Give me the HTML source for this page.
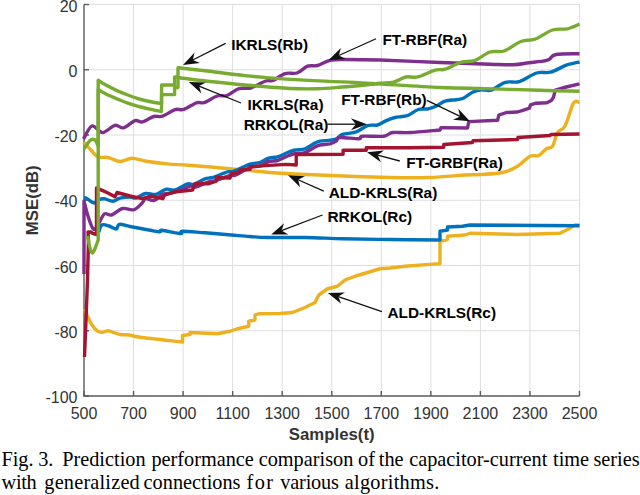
<!DOCTYPE html>
<html><head><meta charset="utf-8"><style>
html,body{margin:0;padding:0;background:#fff;width:640px;height:495px;overflow:hidden}
svg{position:absolute;left:0;top:0}
.g{stroke:#dedede;stroke-width:1}
.ax{stroke:#5a5a5a;stroke-width:1.4;fill:none}
.tl{font-family:"Liberation Sans",sans-serif;font-size:16px;fill:#333}
.lb{font-family:"Liberation Sans",sans-serif;font-size:16.8px;font-weight:bold;fill:#333}
.c{fill:none;stroke-width:3.4;stroke-linejoin:round;stroke-linecap:butt}
.ann{font-family:"Liberation Sans",sans-serif;font-size:15.4px;font-weight:bold;fill:#000}
.ar{stroke:#111;stroke-width:1.3}
.ah{fill:#111}
.cap{font-family:"Liberation Serif",serif;font-size:20.3px;fill:#000}
</style></head><body>
<svg width="640" height="495" viewBox="0 0 640 495">
<line x1="133.55" y1="4.5" x2="133.55" y2="396.0" class="g"/>
<line x1="183.10" y1="4.5" x2="183.10" y2="396.0" class="g"/>
<line x1="232.65" y1="4.5" x2="232.65" y2="396.0" class="g"/>
<line x1="282.20" y1="4.5" x2="282.20" y2="396.0" class="g"/>
<line x1="331.75" y1="4.5" x2="331.75" y2="396.0" class="g"/>
<line x1="381.30" y1="4.5" x2="381.30" y2="396.0" class="g"/>
<line x1="430.85" y1="4.5" x2="430.85" y2="396.0" class="g"/>
<line x1="480.40" y1="4.5" x2="480.40" y2="396.0" class="g"/>
<line x1="529.95" y1="4.5" x2="529.95" y2="396.0" class="g"/>
<line x1="579.50" y1="4.5" x2="579.50" y2="396.0" class="g"/>
<line x1="84.0" y1="330.75" x2="579.5" y2="330.75" class="g"/>
<line x1="84.0" y1="265.50" x2="579.5" y2="265.50" class="g"/>
<line x1="84.0" y1="200.25" x2="579.5" y2="200.25" class="g"/>
<line x1="84.0" y1="135.00" x2="579.5" y2="135.00" class="g"/>
<line x1="84.0" y1="69.75" x2="579.5" y2="69.75" class="g"/>
<line x1="84.0" y1="4.50" x2="579.5" y2="4.50" class="g"/>
<path d="M84.0 4.5 V396.0 H579.5" class="ax"/>
<line x1="84.00" y1="396.0" x2="84.00" y2="391.0" class="ax"/>
<line x1="133.55" y1="396.0" x2="133.55" y2="391.0" class="ax"/>
<line x1="183.10" y1="396.0" x2="183.10" y2="391.0" class="ax"/>
<line x1="232.65" y1="396.0" x2="232.65" y2="391.0" class="ax"/>
<line x1="282.20" y1="396.0" x2="282.20" y2="391.0" class="ax"/>
<line x1="331.75" y1="396.0" x2="331.75" y2="391.0" class="ax"/>
<line x1="381.30" y1="396.0" x2="381.30" y2="391.0" class="ax"/>
<line x1="430.85" y1="396.0" x2="430.85" y2="391.0" class="ax"/>
<line x1="480.40" y1="396.0" x2="480.40" y2="391.0" class="ax"/>
<line x1="529.95" y1="396.0" x2="529.95" y2="391.0" class="ax"/>
<line x1="579.50" y1="396.0" x2="579.50" y2="391.0" class="ax"/>
<line x1="84.0" y1="396.00" x2="89.0" y2="396.00" class="ax"/>
<line x1="84.0" y1="330.75" x2="89.0" y2="330.75" class="ax"/>
<line x1="84.0" y1="265.50" x2="89.0" y2="265.50" class="ax"/>
<line x1="84.0" y1="200.25" x2="89.0" y2="200.25" class="ax"/>
<line x1="84.0" y1="135.00" x2="89.0" y2="135.00" class="ax"/>
<line x1="84.0" y1="69.75" x2="89.0" y2="69.75" class="ax"/>
<line x1="84.0" y1="4.50" x2="89.0" y2="4.50" class="ax"/>
<path class="c" stroke="#EDB120" d="M84.5,309 C85.0,310.2 86.3,313.7 87.6,316.4 C88.8,319.1 90.3,322.5 92.0,325.0 C93.7,327.5 95.9,330.0 97.6,331.2 C99.3,332.4 100.5,332.4 102.2,332.3 C104.0,332.2 106.3,330.7 108.1,330.7 C109.9,330.7 111.0,331.7 113.1,332.3 C115.1,332.9 117.7,334.1 120.4,334.5 C123.1,334.9 126.2,334.5 129.5,335.0 C132.8,335.5 131.2,336.1 140.0,337.3 C148.8,338.5 175.4,341.2 182.5,342.0 L182.5,335.5 L190,334.5 L190,332.5 L217.5,333.75 L230,331.25 L237.5,328.75 L248.75,326.25 L248.75,321.25 L255,320 L255,315 L258.75,313.75 L280,313.5 L292.5,312.5 L305,307.5 L315,302.5 L318.75,295 L327.5,288.75 L337.5,286.25 L345,280 L355,276.25 L367.5,272.5 L380,268.75 L390,268 L405,266.25 L440,263.6 L440,241.25 L447.5,239.5 L447.5,236.25 L465,235 L470,233.25 L517.5,234.5 L560,233.25 L567.5,229.5 L575,225 L579.5,225"/>
<path class="c" stroke="#0072BD" d="M98.8,232 C99.3,230.8 100.1,226.0 101.8,225.0 C103.5,224.0 106.6,225.3 109.0,226.0 C111.4,226.7 114.7,229.3 116.4,229.0 C118.1,228.7 117.1,224.7 119.4,224.3 C121.7,223.9 125.1,225.6 130.0,226.5 C134.9,227.4 143.8,229.1 148.8,230.0 C153.8,230.9 157.8,231.9 160.0,231.9 C162.2,231.9 158.5,229.9 161.9,230.2 C165.3,230.5 177.2,233.4 180.6,233.6 C184.0,233.8 178.4,231.3 182.5,231.2 C186.6,231.1 196.9,232.2 205.0,232.8 C213.1,233.4 223.8,234.4 231.3,235.0 C238.8,235.6 244.0,236.1 250.0,236.5 C256.0,236.9 258.3,237.3 267.5,237.5 C276.7,237.7 292.5,237.3 305.0,237.5 C317.5,237.7 328.3,238.4 342.5,238.8 C356.7,239.1 373.8,239.3 390.0,239.5 C406.2,239.7 431.7,239.9 440.0,240.0 L440,231.25 L447.5,230 L447.5,227 L462.5,226.25 L470,225 L540,225.5 L579.5,225.75"/>
<path class="c" stroke="#EDB120" d="M84,142.4 C85.2,143.7 88.7,147.6 91.0,150.0 C93.3,152.4 95.2,155.8 98.0,157.0 C100.8,158.2 104.3,156.8 108.0,157.5 C111.7,158.2 116.3,161.4 120.3,161.5 C124.3,161.6 127.7,158.2 132.0,158.2 C136.3,158.2 140.5,160.4 146.3,161.3 C152.1,162.2 160.1,163.2 167.0,163.9 C173.9,164.6 180.0,164.6 187.8,165.2 C195.6,165.8 205.1,166.6 213.7,167.3 C222.3,168.0 226.9,168.5 239.6,169.6 C252.3,170.7 264.9,172.4 290.0,173.8 C315.1,175.1 366.7,176.9 390.0,177.5 C413.3,178.1 417.5,177.9 430.0,177.5 C442.5,177.1 456.7,175.5 465.0,175.0 C473.3,174.5 473.8,174.9 480.0,174.5 C486.2,174.1 496.2,173.9 502.5,172.5 C508.8,171.1 512.9,169.0 517.5,166.2 C522.1,163.5 526.5,158.0 530.0,156.2 C533.5,154.5 536.0,156.8 538.8,155.5 C541.5,154.2 544.0,150.3 546.2,148.8 C548.5,147.2 550.6,149.0 552.5,146.2 C554.4,143.5 555.4,135.9 557.5,132.5 C559.6,129.1 562.3,130.9 565.0,126.0 C567.7,121.1 571.1,106.9 573.5,103.0 C575.9,99.1 578.5,102.6 579.5,102.5"/>
<path class="c" stroke="#0072BD" d="M84,198.2 C84.3,198.2 84.3,197.2 86.0,198.0 C87.7,198.8 92.0,202.7 94.0,203.0 C96.0,203.3 96.3,200.7 98.0,200.0 C99.7,199.3 101.8,198.6 104.3,198.8 C106.8,199.0 110.2,201.3 112.8,201.2 C115.4,201.1 117.1,198.9 120.0,198.2 C122.9,197.5 127.3,197.0 130.0,197.0 C132.7,197.0 133.4,198.6 136.0,198.0 C138.6,197.4 142.3,194.1 145.6,193.5 C148.9,192.9 152.5,195.1 155.9,194.4 C159.3,193.7 163.0,189.9 166.2,189.2 C169.3,188.5 171.2,190.9 174.8,190.0 C178.4,189.1 184.3,184.7 187.5,183.8 C190.7,182.8 190.8,185.2 193.8,184.4 C196.7,183.6 201.9,179.9 205.0,178.8 C208.1,177.6 208.8,178.6 212.5,177.5 C216.2,176.4 224.0,172.9 227.5,171.9 C231.0,170.9 230.0,172.5 233.8,171.2 C237.5,170.0 245.6,165.7 250.0,164.2 C254.4,162.7 256.9,163.5 260.0,162.5 C263.1,161.5 265.8,159.0 268.8,158.1 C271.7,157.2 274.4,157.8 277.5,156.9 C280.6,156.0 284.6,153.7 287.5,152.5 C290.4,151.3 292.1,150.6 295.0,150.0 C297.9,149.4 301.7,149.9 305.0,148.8 C308.3,147.6 312.5,144.3 315.0,143.1 C317.5,141.8 316.7,141.9 320.0,141.2 C323.3,140.6 331.2,140.5 335.0,139.4 C338.8,138.3 339.0,135.7 342.5,134.4 C346.0,133.2 352.1,133.4 356.2,131.9 C360.4,130.4 364.0,126.8 367.5,125.6 C371.0,124.4 374.4,125.8 377.5,125.0 C380.6,124.2 383.3,121.8 386.2,120.6 C389.2,119.3 392.4,118.2 395.0,117.5 C397.6,116.8 399.8,116.9 402.0,116.5 C404.2,116.1 405.7,116.4 408.4,115.2 C411.1,114.0 415.0,110.6 418.3,109.5 C421.6,108.4 425.1,109.4 428.1,108.8 C431.2,108.2 433.8,107.3 436.6,106.0 C439.4,104.7 441.7,102.1 445.0,101.1 C448.3,100.0 453.2,100.2 456.3,99.7 C459.4,99.2 460.5,99.6 463.3,98.3 C466.1,97.0 470.1,93.4 473.1,92.0 C476.2,90.6 478.6,90.1 481.6,89.8 C484.6,89.5 487.3,91.5 491.2,90.2 C495.2,89.0 500.6,83.7 505.3,82.3 C510.0,80.9 514.2,83.1 519.4,81.6 C524.6,80.0 531.4,74.6 536.6,73.0 C541.8,71.4 545.7,73.5 550.6,72.2 C555.5,70.9 561.4,66.9 566.2,65.2 C571.1,63.5 577.3,62.5 579.5,62.0"/>
<path class="c" stroke="#7E2F8E" d="M84,274 L84,201 C84.7,203.5 86.5,211.3 88.0,216.0 C89.5,220.7 91.6,227.5 93.3,229.0 C95.0,230.5 96.2,227.5 98.0,225.0 C99.8,222.5 102.0,215.7 104.3,214.0 C106.5,212.3 108.5,215.9 111.5,215.0 C114.5,214.1 118.8,209.4 122.5,208.5 C126.2,207.6 130.3,210.7 133.6,209.8 C136.9,208.9 140.2,204.9 142.2,203.0 C144.2,201.1 143.6,198.9 145.6,198.5 C147.6,198.1 151.3,201.1 154.2,200.4 C157.1,199.7 159.7,195.7 162.8,194.4 C166.0,193.1 169.9,193.3 173.1,192.6 C176.2,191.9 178.9,191.1 181.7,190.0 C184.5,188.9 187.6,186.8 190.0,186.2 C192.4,185.7 193.2,187.6 196.2,186.9 C199.2,186.2 204.9,183.0 208.0,182.0 C211.1,181.0 211.3,182.1 215.0,181.0 C218.7,179.9 226.5,176.5 230.0,175.5 C233.5,174.5 232.7,176.3 236.0,175.0 C239.3,173.7 246.0,169.0 250.0,167.5 C254.0,166.0 256.9,167.0 260.0,166.0 C263.1,165.0 265.8,162.4 268.8,161.5 C271.7,160.6 274.4,161.4 277.5,160.5 C280.6,159.6 284.6,157.2 287.5,156.0 C290.4,154.8 292.1,154.1 295.0,153.5 C297.9,152.9 301.7,153.6 305.0,152.5 C308.3,151.4 312.5,148.2 315.0,147.0 C317.5,145.8 317.5,145.5 320.0,145.0 C322.5,144.5 327.3,144.4 330.0,143.8 C332.7,143.1 334.6,142.3 336.2,141.2 C337.9,140.2 336.2,137.9 340.0,137.5 C343.8,137.1 355.0,139.0 358.8,138.8 C362.5,138.5 358.3,136.7 362.5,136.2 C366.7,135.8 378.8,136.9 383.8,136.2 C388.8,135.6 388.1,133.1 392.5,132.5 C396.9,131.9 402.1,132.9 410.0,132.5 C417.9,132.1 435.0,130.4 440.0,130.0 L441,127.6 L467.5,128 L468.8,121.6 L497.7,120.2 L498.8,115.2 L506.4,112.5 L517.4,112 L522.8,110.3 L529.4,108.1 L530.5,104.8 L536,103.2 L546.9,102.7 L551.3,100.5 L553.5,97.2 L555.3,90.2 L566.25,87 L579.5,83.9"/>
<path class="c" stroke="#A2142F" d="M84.5,357 L86,320 L87.5,280 L88.5,240 L88,232 L91,232 L92.7,233.4 L96.5,234.6 L96.5,188 C98.4,188.8 104.9,191.5 108.0,193.0 C111.1,194.5 113.8,196.2 115.0,196.8 L117,192.5 L130,196 L142.2,198.7 L150.8,196 L162.8,198.7 L164.5,195.2 L174.8,191.8 L183.4,191 L192.5,190 L195,183.75 L208.75,183.75 L216.25,181.25 L216.25,177.5 L230,178 L231.25,173.75 L238.75,172.5 L240,170 L250,169.4 L250,166.9 L265,165.6 L286.25,164.4 L296.25,165 L296.25,154.5 L343.1,154.3 L343.1,150.3 L366.3,150.2 L366.3,147.8 L410,147.8 L443.75,147.3 L443.75,144.5 L472.5,142.5 L473,140.8 L517.5,139.5 L518,137.5 L550,135.5 L551,134.5 L579.5,134"/>
<path class="c" stroke="#7E2F8E" d="M83.5,139 C84.9,136.8 88.8,127.1 92.0,126.0 C95.2,124.9 98.8,132.7 102.6,132.6 C106.4,132.5 111.3,126.2 114.8,125.4 C118.3,124.6 120.3,128.6 123.7,127.8 C127.1,127.0 131.9,121.6 135.0,120.6 C138.1,119.6 139.4,122.6 142.5,121.9 C145.6,121.2 150.4,117.4 153.8,116.5 C157.1,115.6 159.0,117.4 162.5,116.2 C166.0,115.1 171.5,110.7 175.0,109.6 C178.5,108.5 180.2,110.5 183.8,109.4 C187.3,108.3 193.0,103.9 196.4,102.8 C199.8,101.7 200.5,103.7 204.0,102.6 C207.5,101.5 213.4,97.2 217.2,96.0 C221.0,94.8 223.4,96.7 227.0,95.5 C230.6,94.3 235.1,89.8 239.0,88.6 C242.9,87.3 246.2,89.3 250.7,88.0 C255.1,86.7 261.9,82.2 265.7,81.0 C269.4,79.8 270.0,81.7 273.2,80.5 C276.4,79.3 281.0,74.8 285.0,73.6 C289.0,72.3 293.2,74.2 297.0,73.0 C300.8,71.8 304.1,67.5 307.5,66.2 C310.9,65.0 313.8,66.5 317.5,65.5 C321.2,64.5 325.4,61.3 330.0,60.3 C334.6,59.3 336.7,59.5 345.0,59.5 C353.3,59.5 364.2,59.5 380.0,60.0 C395.8,60.5 421.7,61.8 440.0,62.5 C458.3,63.2 477.8,63.8 490.0,64.2 C502.2,64.6 506.9,65.0 513.4,64.7 C519.9,64.5 524.1,63.3 529.0,62.7 C533.9,62.1 539.7,61.6 543.0,61.1 C546.3,60.6 546.8,60.6 549.0,59.5 C551.2,58.4 550.9,55.5 556.0,54.5 C561.1,53.5 575.6,53.9 579.5,53.8"/>
<path class="c" stroke="#77AC30" d="M87.5,236 C88.2,238.8 90.2,252.3 92.0,253.0 C93.8,253.7 97.2,242.2 98.2,240.0 L98.2,89.5 C99.5,90.2 102.8,92.4 105.9,93.9 C109.0,95.5 113.2,97.2 116.9,98.8 C120.6,100.3 124.1,101.9 127.8,103.2 C131.4,104.5 135.2,105.5 138.8,106.5 C142.5,107.5 145.9,108.4 149.7,109.2 C153.5,110.0 159.5,111.1 161.5,111.5 L161.6,94.6 L174.6,94.6 L174.6,87.5 L178,87.5 L178,77.5 C182.9,78.1 196.3,80.0 207.5,81.3 C218.7,82.5 231.2,83.8 245.0,85.0 C258.8,86.2 277.9,87.9 290.0,88.5 C302.1,89.1 308.8,89.0 317.5,88.8 C326.2,88.5 334.6,87.6 342.5,87.0 C350.4,86.4 358.8,85.6 365.0,85.0 C371.2,84.4 375.2,83.8 380.0,83.3 C384.8,82.8 389.4,83.1 393.7,82.1 C398.0,81.0 401.8,77.9 405.8,77.0 C409.8,76.1 412.9,78.1 417.8,76.9 C422.7,75.8 430.4,71.4 435.0,70.1 C439.6,68.8 441.0,70.5 445.3,69.2 C449.6,67.9 455.9,63.7 460.8,62.3 C465.7,60.9 469.6,62.3 474.5,60.6 C479.4,58.9 485.1,53.6 490.0,52.0 C494.9,50.4 498.8,52.8 504.0,51.0 C509.2,49.2 515.8,43.5 521.0,41.5 C526.2,39.5 529.8,41.1 535.0,39.2 C540.2,37.3 547.1,31.7 552.5,30.0 C557.9,28.3 563.0,29.7 567.5,28.8 C572.0,27.8 577.5,25.0 579.5,24.2"/>
<path class="c" stroke="#77AC30" d="M84,149 C85.0,147.6 88.2,142.0 90.0,140.5 C91.8,139.0 93.6,139.1 95.0,140.0 C96.4,140.9 97.7,145.0 98.2,146.0 L98.2,80.2 C99.5,81.0 102.8,83.4 105.9,85.1 C109.0,86.8 113.2,88.9 116.9,90.6 C120.6,92.2 124.1,93.6 127.8,95.0 C131.4,96.4 135.2,97.7 138.8,98.8 C142.5,99.9 145.9,100.7 149.7,101.5 C153.5,102.3 159.5,103.2 161.5,103.5 L161.6,85 L174.6,85 L174.6,77 L178,77 L178,67.8 C182.9,68.3 196.3,69.7 207.5,71.0 C218.7,72.3 231.2,74.2 245.0,75.6 C258.8,77.0 271.7,78.2 290.0,79.4 C308.3,80.6 330.0,81.2 355.0,82.5 C380.0,83.8 418.3,86.5 440.0,87.5 C461.7,88.5 468.3,88.1 485.0,88.6 C501.7,89.1 524.2,89.9 540.0,90.3 C555.8,90.7 572.9,91.1 579.5,91.2"/>
<text x="77.5" y="403.10" class="tl" text-anchor="end">-100</text>
<text x="77.5" y="337.85" class="tl" text-anchor="end">-80</text>
<text x="77.5" y="272.60" class="tl" text-anchor="end">-60</text>
<text x="77.5" y="207.35" class="tl" text-anchor="end">-40</text>
<text x="77.5" y="142.10" class="tl" text-anchor="end">-20</text>
<text x="77.5" y="76.85" class="tl" text-anchor="end">0</text>
<text x="77.5" y="11.60" class="tl" text-anchor="end">20</text>
<text x="84.00" y="419.2" class="tl" text-anchor="middle">500</text>
<text x="133.55" y="419.2" class="tl" text-anchor="middle">700</text>
<text x="183.10" y="419.2" class="tl" text-anchor="middle">900</text>
<text x="232.65" y="419.2" class="tl" text-anchor="middle">1100</text>
<text x="282.20" y="419.2" class="tl" text-anchor="middle">1300</text>
<text x="331.75" y="419.2" class="tl" text-anchor="middle">1500</text>
<text x="381.30" y="419.2" class="tl" text-anchor="middle">1700</text>
<text x="430.85" y="419.2" class="tl" text-anchor="middle">1900</text>
<text x="480.40" y="419.2" class="tl" text-anchor="middle">2100</text>
<text x="529.95" y="419.2" class="tl" text-anchor="middle">2300</text>
<text x="579.50" y="419.2" class="tl" text-anchor="middle">2500</text>
<text x="331.75" y="439.5" class="lb" text-anchor="middle">Samples(t)</text>
<text transform="translate(37.6 200.25) rotate(-90)" class="lb" text-anchor="middle">MSE(dB)</text>
<line x1="225.6" y1="43.4" x2="192.81" y2="60.03" class="ar"/>
<path d="M183.00,65.00 L199.98,63.12 L192.81,60.03 L194.56,52.41Z" class="ah"/>
<text x="231.20" y="50" class="ann">IKRLS(Rb)</text>
<line x1="241" y1="103" x2="199.01" y2="86.11" class="ar"/>
<path d="M188.80,82.00 L201.40,93.54 L199.01,86.11 L205.88,82.41Z" class="ah"/>
<text x="247.45" y="110" class="ann">IKRLS(Ra)</text>
<line x1="376" y1="38.75" x2="338.78" y2="55.49" class="ar"/>
<path d="M328.75,60.00 L345.80,58.91 L338.78,55.49 L340.88,47.97Z" class="ah"/>
<text x="382.45" y="45" class="ann">FT-RBF(Ra)</text>
<line x1="426.9" y1="100.3" x2="460.11" y2="116.44" class="ar"/>
<path d="M470.00,121.25 L458.23,108.86 L460.11,116.44 L452.99,119.65Z" class="ah"/>
<text x="341.20" y="105" class="ann">FT-RBF(Rb)</text>
<line x1="327.5" y1="124.2" x2="355.90" y2="124.20" class="ar"/>
<path d="M366.90,124.20 L350.90,118.20 L355.90,124.20 L350.90,130.20Z" class="ah"/>
<text x="243.70" y="130" class="ann">RRKOL(Ra)</text>
<line x1="399.8" y1="161" x2="377.63" y2="155.12" class="ar"/>
<path d="M367.00,152.30 L380.93,162.20 L377.63,155.12 L384.00,150.60Z" class="ah"/>
<text x="406.20" y="168" class="ann">FT-GRBF(Ra)</text>
<line x1="323.8" y1="191.2" x2="298.05" y2="179.76" class="ar"/>
<path d="M288.00,175.30 L300.19,187.28 L298.05,179.76 L305.06,176.31Z" class="ah"/>
<text x="328.70" y="197.5" class="ann">ALD-KRLS(Ra)</text>
<line x1="322.5" y1="215" x2="281.53" y2="230.59" class="ar"/>
<path d="M271.25,234.50 L288.34,234.42 L281.53,230.59 L284.07,223.20Z" class="ah"/>
<text x="327.45" y="222" class="ann">RRKOL(Rc)</text>
<line x1="381.9" y1="311.7" x2="338.29" y2="296.52" class="ar"/>
<path d="M327.90,292.90 L341.04,303.83 L338.29,296.52 L344.98,292.49Z" class="ah"/>
<text x="387.45" y="317.5" class="ann">ALD-KRLS(Rc)</text>
<text class="cap"><tspan x="1.40" y="465.5">Fig.</tspan><tspan x="38.15" y="465.5">3.</tspan><tspan x="62.20" y="465.5">Prediction</tspan><tspan x="151.40" y="465.5">performance</tspan><tspan x="258.70" y="465.5">comparison</tspan><tspan x="358.00" y="465.5">of</tspan><tspan x="378.80" y="465.5">the</tspan><tspan x="409.20" y="465.5">capacitor-current</tspan><tspan x="553.00" y="465.5">time</tspan><tspan x="593.40" y="465.5">series</tspan></text>
<text class="cap"><tspan x="1.60" y="488.5" style="letter-spacing:-0.35px">with</tspan><tspan x="44.30" y="488.5" style="letter-spacing:0.2px">generalized</tspan><tspan x="143.60" y="488.5">connections</tspan><tspan x="246.40" y="488.5" style="letter-spacing:1.5px">for</tspan><tspan x="280.20" y="488.5" style="letter-spacing:-0.15px">various</tspan><tspan x="344.70" y="488.5" style="letter-spacing:0.28px">algorithms.</tspan></text>
</svg>
</body></html>
